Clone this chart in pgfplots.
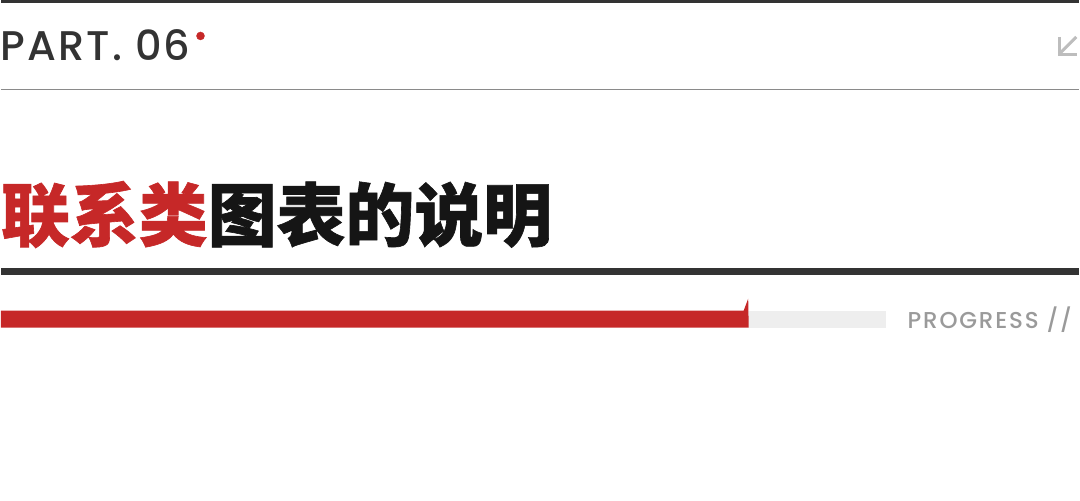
\documentclass[border=0pt]{standalone}
\usepackage{pgfplots}
\pgfplotsset{compat=1.18}
\usepackage{fontspec}
\setmainfont{Poppins}
\newfontfamily\partfont{Poppins Medium}[LetterSpace=5]
\newfontfamily\progfont{Poppins Medium}[LetterSpace=8]
\newfontfamily\cjk{Noto Sans CJK SC}[BoldFeatures={FakeBold=0.9}]
\definecolor{hdred}{HTML}{C62828}
\definecolor{hddark}{HTML}{333333}
\definecolor{hdline}{HTML}{8A8A8A}
\definecolor{hdtrack}{HTML}{EEEEEE}
\definecolor{hdgrey}{HTML}{9A9A9A}
\definecolor{hdarrow}{HTML}{BDBDBD}
\definecolor{hdblack}{HTML}{151515}
\begin{document}
\begin{tikzpicture}
\begin{axis}[
    width=1080pt, height=501pt, scale only axis,
    xmin=0, xmax=1080, ymin=0, ymax=501,
    y dir=reverse,
    hide axis,
    clip=false,
]
% rules
\addplot[fill=hddark, draw=none] coordinates {(0,0) (1080,0) (1080,3) (0,3)} -- cycle;
\addplot[draw=hdline, line width=1.6pt] coordinates {(0,89.5) (1080,89.5)};
\addplot[fill=hddark, draw=none] coordinates {(0,268) (1080,268) (1080,275) (0,275)} -- cycle;

% progress track and bar
\addplot[fill=hdtrack, draw=none] coordinates {(748,311) (887,311) (887,328) (748,328)} -- cycle;
\addplot[fill=hdred, draw=none] coordinates {(0,311) (744,311) (748.5,299) (749,328) (0,328)} -- cycle;

% red dot
\addplot[only marks, mark=*, mark size=4pt, color=hdred] coordinates {(200,36)};

% arrow
\addplot[draw=hdarrow, line width=3pt] coordinates {(1077,37) (1061,53)};
\addplot[draw=hdarrow, line width=3pt] coordinates {(1060,37) (1060,55) (1078,55)};

% texts
\node[anchor=base west, inner sep=0pt, text=hddark, font=\partfont\fontsize{41.5}{44}\selectfont]
    at (axis cs:0,61) {PART. 06};
\node[anchor=base west, inner sep=0pt, font=\cjk\bfseries\fontsize{69}{72}\selectfont]
    at (axis cs:0,241) {\textcolor{hdred}{联系类}\textcolor{hdblack}{图表的说明}};
\node[anchor=base west, inner sep=0pt, text=hdgrey, font=\progfont\fontsize{23}{25}\selectfont]
    at (axis cs:908,328.5) {PROGRESS //};
\end{axis}
\path (current axis.south west) rectangle (current axis.north east);
\end{tikzpicture}
\end{document}
